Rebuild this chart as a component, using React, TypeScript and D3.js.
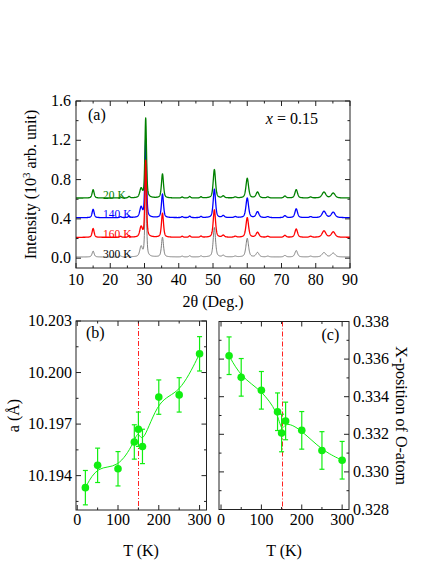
import React from 'react';
import * as d3 from 'd3';

// ---------- Panel (a): XRD patterns ----------
const peakPos = [15.0, 23.0, 25.5, 29.0, 30.35, 35.25, 41.0, 43.2, 46.5, 50.4, 53.0, 56.5, 60.0, 63.0, 66.0, 71.0, 74.3, 78.5, 82.4, 85.1];
const peakFwhm = [0.7, 0.6, 0.6, 0.9, 0.55, 0.7, 0.6, 0.6, 0.6, 0.8, 0.8, 0.8, 0.9, 1.0, 0.8, 0.8, 0.9, 0.8, 1.3, 1.3];
const amp20K = [0.085, 0.01, 0.015, 0.09, 0.81, 0.245, 0.01, 0.015, 0.012, 0.29, 0.02, 0.01, 0.2, 0.06, 0.01, 0.02, 0.085, 0.01, 0.06, 0.05];
const amp140K = [0.085, 0.01, 0.015, 0.1, 0.8, 0.24, 0.01, 0.015, 0.012, 0.29, 0.02, 0.01, 0.2, 0.06, 0.01, 0.02, 0.09, 0.01, 0.065, 0.055];
const amp160K = [0.09, 0.01, 0.015, 0.1, 0.78, 0.245, 0.01, 0.015, 0.012, 0.28, 0.02, 0.01, 0.2, 0.05, 0.01, 0.02, 0.085, 0.01, 0.065, 0.055];
const amp300K = [0.06, 0.01, 0.012, 0.1, 0.75, 0.2, 0.008, 0.012, 0.01, 0.3, 0.015, 0.008, 0.19, 0.045, 0.008, 0.015, 0.065, 0.008, 0.045, 0.04];
const traceAmps = [amp20K, amp140K, amp160K, amp300K];
const traceOffsets = [0.6, 0.4, 0.2, 0.0];
const traceLabels = ['20 K', '140 K', '160 K', '300 K'];
const traceColors = ['#008000', '#0000ff', '#ff0000', '#6e6e6e'];
const traceLabelColors = ['#008000', '#0000ff', '#ff0000', '#000000'];
const baseLevel = 0.012;
const xTicksA = [10, 20, 30, 40, 50, 60, 70, 80, 90];
const yTicksA = [0.0, 0.4, 0.8, 1.2, 1.6];

// ---------- Panel (b): lattice parameter ----------
const temps = [20, 50, 100, 140, 150, 160, 200, 250, 300];
const aValues = [10.1933, 10.1946, 10.1944, 10.19596, 10.1967, 10.1957, 10.19857, 10.1987, 10.20109];
const aErrors = [0.001, 0.001, 0.001, 0.001, 0.001, 0.001, 0.001, 0.001, 0.001];
const yTicksB = [10.194, 10.197, 10.2, 10.203];

// ---------- Panel (c): O-atom x-position ----------
const oxValues = [0.33618, 0.33503, 0.33434, 0.3332, 0.33207, 0.33271, 0.33221, 0.33114, 0.33062];
const oxErrors = [0.001, 0.001, 0.001, 0.001, 0.001, 0.001, 0.001, 0.001, 0.001];
const yTicksC = [0.328, 0.33, 0.332, 0.334, 0.336, 0.338];
const tTicks = [0, 100, 200, 300];
const transitionT = 150;

const FONT = "'Liberation Serif', 'Times New Roman', Times, 'Nimbus Roman', 'DejaVu Serif', serif";
const FRAME = '#222';
const LIME = '#11ee11';

function profile(x: number, p: number, w: number) {
  const d = (x - p) / (w / 2);
  return 0.5 / (1 + d * d) + 0.5 * Math.exp(-Math.LN2 * d * d);
}

function Frame({ x0, x1, y0, y1 }: any) {
  return <rect x={x0} y={y0} width={x1 - x0} height={y1 - y0} fill="none" stroke={FRAME} strokeWidth={1} />;
}

export default function App() {
  // panel (a)
  const ax = d3.scaleLinear().domain([10, 90]).range([76, 350]);
  const ay = d3.scaleLinear().domain([-0.1, 1.6]).range([268, 101]);
  const grid = d3.range(10, 90.0001, 0.05);
  const line = d3.line<[number, number]>().x(d => ax(d[0])).y(d => ay(d[1]));
  const traces = traceAmps.map((amps, ti) =>
    grid.map(x => {
      let v = traceOffsets[ti] + baseLevel;
      for (let i = 0; i < peakPos.length; i++) v += amps[i] * profile(x, peakPos[i], peakFwhm[i]);
      return [x, v] as [number, number];
    })
  );
  const drawOrder = [3, 1, 0, 2];
  const xMinorA = d3.range(10, 90.01, 5);
  const yMinorA = d3.range(-0.0, 1.601, 0.2);

  // panel (b)
  const bx = d3.scaleLinear().domain([-3, 317]).range([76, 206.5]);
  const by = d3.scaleLinear().domain([10.192, 10.203]).range([510, 321]);
  // panel (c)
  const cx = d3.scaleLinear().domain([-5, 317]).range([219, 349]);
  const cy = d3.scaleLinear().domain([0.328, 0.338]).range([509.5, 321.5]);

  const tMinor = [50, 150, 250];
  const yMinorB = [10.1925, 10.1955, 10.1985, 10.2015];
  const yMinorC = [0.329, 0.331, 0.333, 0.335, 0.337];

  const fitB = d3.line<number>().x((_, i) => bx(temps[i])).y(d => by(d)).curve(d3.curveBasis);
  const fitC = d3.line<number>().x((_, i) => cx(temps[i])).y(d => cy(d)).curve(d3.curveBasis);

  const T = (props: any) => <text fontFamily={FONT} fontSize={16} fill="#000" {...props} />;

  const scatter = (xs: any, ys: any, vals: number[], errs: number[]) =>
    vals.map((v, i) => {
      const x = xs(temps[i]);
      const yt = ys(v + errs[i]);
      const yb = ys(v - errs[i]);
      return (
        <g key={i}>
          <line x1={x} x2={x} y1={yt} y2={yb} stroke={LIME} strokeWidth={1.2} />
          <line x1={x - 2.5} x2={x + 2.5} y1={yt} y2={yt} stroke={LIME} strokeWidth={1.2} />
          <line x1={x - 2.5} x2={x + 2.5} y1={yb} y2={yb} stroke={LIME} strokeWidth={1.2} />
          <circle cx={x} cy={ys(v)} r={3.8} fill={LIME} />
        </g>
      );
    });

  const bLine = Math.round(bx(transitionT)) + 0.5;
  const cLine = Math.round(cx(transitionT)) + 0.5;

  return (
    <svg width={436} height={564} style={{ position: 'absolute', left: 0, top: 0, background: '#fff' }}>
      <defs>
        <clipPath id="clipA"><rect x={76} y={101} width={274} height={167} /></clipPath>
      </defs>

      {/* ===== Panel (a) ===== */}
      <g clipPath="url(#clipA)">
        {drawOrder.map(ti => (
          <path key={ti} d={line(traces[ti]) || ''} fill="none" stroke={traceColors[ti]}
            strokeWidth={ti === 3 ? 0.9 : 1.3} strokeLinejoin="round" />
        ))}
      </g>
      {traceLabels.map((lab, ti) => (
        <text key={lab} x={103} y={ay(traceOffsets[ti] + 0.046) + 4} fontFamily={FONT} fontSize={11.5}
          fill={traceLabelColors[ti]}>{lab}</text>
      ))}
      <Frame x0={76} x1={350} y0={101} y1={268} />
      {xMinorA.map(v => {
        const major = v % 10 === 0;
        const l = major ? 5 : 2.5;
        return (
          <g key={'xa' + v}>
            <line x1={ax(v)} x2={ax(v)} y1={268} y2={268 - l} stroke={FRAME} />
            <line x1={ax(v)} x2={ax(v)} y1={101} y2={101 + l} stroke={FRAME} />
          </g>
        );
      })}
      {yMinorA.map((v, i) => {
        const l = i % 2 === 0 ? 5 : 2.5;
        return (
          <g key={'ya' + i}>
            <line x1={76} x2={76 + l} y1={ay(v)} y2={ay(v)} stroke={FRAME} />
            <line x1={350} x2={350 - l} y1={ay(v)} y2={ay(v)} stroke={FRAME} />
          </g>
        );
      })}
      {xTicksA.map(v => <T key={'xta' + v} x={ax(v)} y={285} textAnchor="middle">{v}</T>)}
      {yTicksA.map(v => <T key={'yta' + v} x={71} y={ay(v) + 5} textAnchor="end">{v.toFixed(1)}</T>)}
      <T x={213} y={307} textAnchor="middle">2θ (Deg.)</T>
      <T transform={`translate(36,${(101 + 268) / 2}) rotate(-90)`} textAnchor="middle">
        Intensity (10<tspan dy={-6} fontSize={11}>3</tspan><tspan dy={6}> arb. unit)</tspan>
      </T>
      <T x={88} y={120}>(a)</T>
      <T x={318} y={124} textAnchor="end"><tspan fontStyle="italic">x</tspan> = 0.15</T>

      {/* ===== Panel (b) ===== */}
      <line x1={bLine} x2={bLine} y1={321} y2={510} stroke="#ff2020" strokeWidth={1}
        strokeDasharray="5,2,1,2" />
      <path d={fitB(aValues) || ''} fill="none" stroke={LIME} strokeWidth={1} />
      {scatter(bx, by, aValues, aErrors)}
      <Frame x0={76} x1={206.5} y0={321} y1={510} />
      {[...tTicks, ...tMinor].map(v => {
        const l = tTicks.includes(v) ? 5 : 2.5;
        return (
          <g key={'xb' + v}>
            <line x1={bx(v)} x2={bx(v)} y1={510} y2={510 - l} stroke={FRAME} />
            <line x1={bx(v)} x2={bx(v)} y1={321} y2={321 + l} stroke={FRAME} />
          </g>
        );
      })}
      {[...yTicksB, ...yMinorB].map((v, i) => {
        const l = i < yTicksB.length ? 5 : 2.5;
        return (
          <g key={'yb' + i}>
            <line x1={76} x2={76 + l} y1={by(v)} y2={by(v)} stroke={FRAME} />
            <line x1={206.5} x2={206.5 - l} y1={by(v)} y2={by(v)} stroke={FRAME} />
          </g>
        );
      })}
      {tTicks.map(v => <T key={'xtb' + v} x={bx(v)} y={525} textAnchor="middle">{v}</T>)}
      {yTicksB.map(v => <T key={'ytb' + v} x={72} y={by(v) + 5} textAnchor="end">{v.toFixed(3)}</T>)}
      <T x={141} y={556} textAnchor="middle">T (K)</T>
      <T transform={`translate(19,${(321 + 510) / 2}) rotate(-90)`} textAnchor="middle">a (Å)</T>
      <T x={86} y={338}>(b)</T>

      {/* ===== Panel (c) ===== */}
      <line x1={cLine} x2={cLine} y1={321.5} y2={509.5} stroke="#ff2020" strokeWidth={1}
        strokeDasharray="5,2,1,2" />
      <path d={fitC(oxValues) || ''} fill="none" stroke={LIME} strokeWidth={1} />
      {scatter(cx, cy, oxValues, oxErrors)}
      <Frame x0={219} x1={349} y0={321.5} y1={509.5} />
      {[...tTicks, ...tMinor].map(v => {
        const l = tTicks.includes(v) ? 5 : 2.5;
        return (
          <g key={'xc' + v}>
            <line x1={cx(v)} x2={cx(v)} y1={509.5} y2={509.5 - l} stroke={FRAME} />
            <line x1={cx(v)} x2={cx(v)} y1={321.5} y2={321.5 + l} stroke={FRAME} />
          </g>
        );
      })}
      {[...yTicksC, ...yMinorC].map((v, i) => {
        const l = i < yTicksC.length ? 5 : 2.5;
        return (
          <g key={'yc' + i}>
            <line x1={219} x2={219 + l} y1={cy(v)} y2={cy(v)} stroke={FRAME} />
            <line x1={349} x2={349 - l} y1={cy(v)} y2={cy(v)} stroke={FRAME} />
          </g>
        );
      })}
      {tTicks.map(v => <T key={'xtc' + v} x={cx(v)} y={525} textAnchor="middle">{v}</T>)}
      {yTicksC.map(v => <T key={'ytc' + v} x={353} y={cy(v) + 5} textAnchor="start">{v.toFixed(3)}</T>)}
      <T x={284} y={556} textAnchor="middle">T (K)</T>
      <T transform={`translate(396,${(321.5 + 509.5) / 2}) rotate(90)`} textAnchor="middle">X-position of O-atom</T>
      <T x={321.5} y={340}>(c)</T>
    </svg>
  );
}
